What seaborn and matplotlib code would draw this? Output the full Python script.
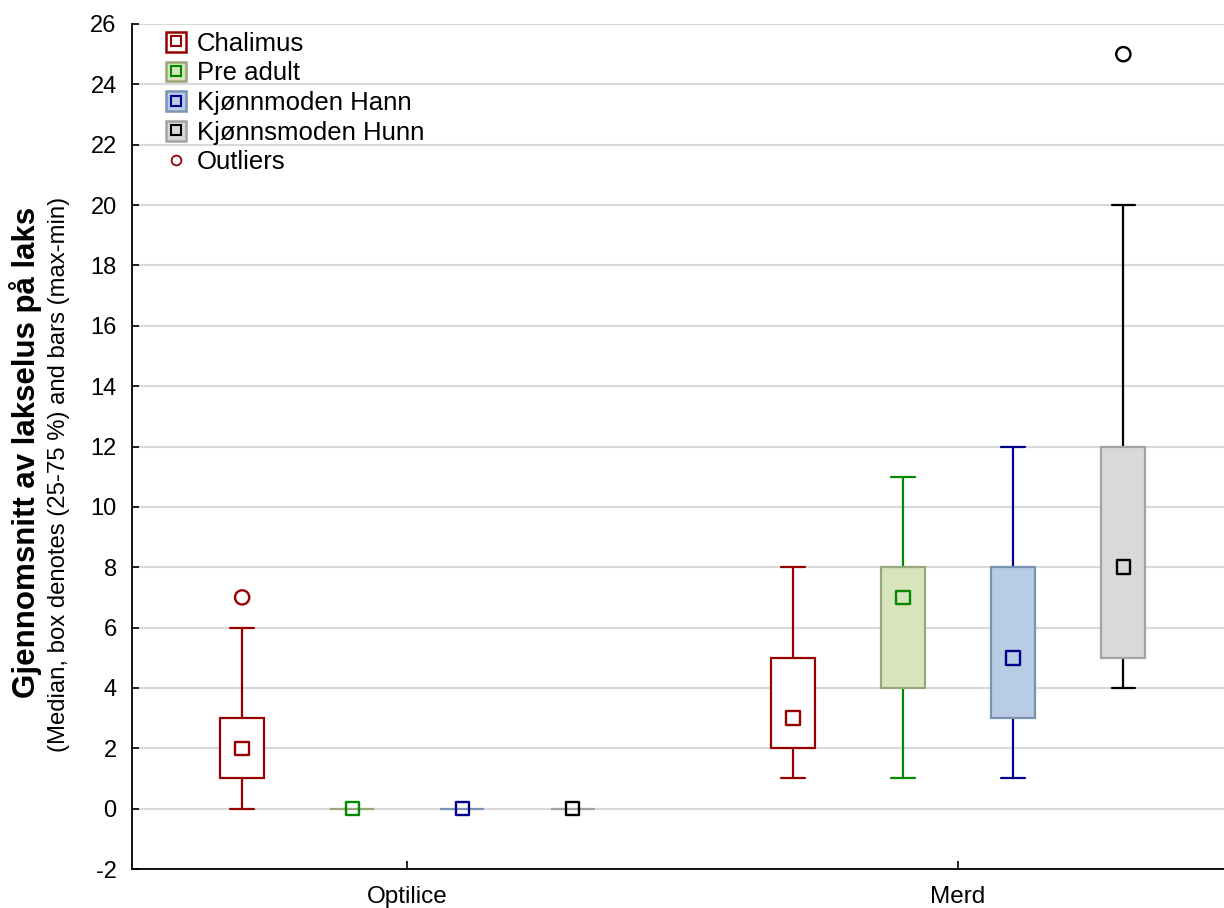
import numpy as np
import pandas as pd
import matplotlib
matplotlib.use("Agg")
import matplotlib.pyplot as plt
from matplotlib import font_manager
from matplotlib.patches import Patch
from matplotlib.lines import Line2D
from matplotlib.legend_handler import HandlerTuple
import seaborn as sns

# ---------------- data ----------------
groups = ["Optilice", "Merd"]
stages = ["Chalimus", "Pre adult", "Kjønnmoden Hann", "Kjønnsmoden Hunn"]
# per stage: values for [Optilice, Merd]
mins    = {"Chalimus": [0, 1], "Pre adult": [0, 1], "Kjønnmoden Hann": [0, 1], "Kjønnsmoden Hunn": [0, 4]}
q1s     = {"Chalimus": [1, 2], "Pre adult": [0, 4], "Kjønnmoden Hann": [0, 3], "Kjønnsmoden Hunn": [0, 5]}
medians = {"Chalimus": [2, 3], "Pre adult": [0, 7], "Kjønnmoden Hann": [0, 5], "Kjønnsmoden Hunn": [0, 8]}
q3s     = {"Chalimus": [3, 5], "Pre adult": [0, 8], "Kjønnmoden Hann": [0, 8], "Kjønnsmoden Hunn": [0, 12]}
maxs    = {"Chalimus": [6, 8], "Pre adult": [0, 11], "Kjønnmoden Hann": [0, 12], "Kjønnsmoden Hunn": [0, 20]}
outlier_stage = ["Chalimus", "Kjønnsmoden Hunn"]
outlier_group = ["Optilice", "Merd"]
outlier_value = [7, 25]
yticks = list(range(-2, 27, 2))

# ---------------- style ----------------
sns.set_style("white")
names = {f.name for f in font_manager.fontManager.ttflist}
base_font = "Liberation Sans" if "Liberation Sans" in names else "DejaVu Sans"
narrow_font = "Liberation Sans Narrow" if "Liberation Sans Narrow" in names else base_font
plt.rcParams["font.family"] = [base_font, "DejaVu Sans"]
plt.rcParams["text.color"] = "black"
plt.rcParams["xtick.color"] = "black"
plt.rcParams["ytick.color"] = "black"

face = {"Chalimus": "#ffffff", "Pre adult": "#d8e4bc", "Kjønnmoden Hann": "#b8cce4", "Kjønnsmoden Hunn": "#d9d9d9"}
edge = {"Chalimus": "#960000", "Pre adult": "#98a67c", "Kjønnmoden Hann": "#7b93b3", "Kjønnsmoden Hunn": "#a3a3a3"}
wcol = {"Chalimus": "#960000", "Pre adult": "#008a00", "Kjønnmoden Hann": "#00008c", "Kjønnsmoden Hunn": "#000000"}
offsets = {s: o for s, o in zip(stages, [-0.3, -0.1, 0.1, 0.3])}
box_w = 0.08
cap_w = 0.043

fig = plt.figure(figsize=(12.24, 9.08), dpi=100)
ax = fig.add_axes([132 / 1224, 39 / 908, (1233.5 - 132) / 1224, (869 - 24) / 908])

for s in stages:
    for gi, g in enumerate(groups):
        st = dict(med=medians[s][gi], q1=q1s[s][gi], q3=q3s[s][gi],
                  whislo=mins[s][gi], whishi=maxs[s][gi], fliers=[])
        flat = st["whislo"] == st["q1"] and st["whishi"] == st["q3"]
        ax.bxp([st], positions=[gi + offsets[s]], widths=box_w,
               capwidths=0.0 if flat else cap_w,
               patch_artist=True, showfliers=False, manage_ticks=False,
               showcaps=not flat,
               boxprops=dict(facecolor=face[s], edgecolor=edge[s], linewidth=1.6, zorder=3),
               whiskerprops=dict(color=wcol[s], linewidth=1.6, zorder=2),
               capprops=dict(color=wcol[s], linewidth=1.6, zorder=2),
               medianprops=dict(linestyle="none"))

# median markers
med_df = pd.DataFrame({
    "x": [gi + offsets[s] for s in stages for gi in range(len(groups))],
    "y": [medians[s][gi] for s in stages for gi in range(len(groups))],
    "stage": [s for s in stages for gi in range(len(groups))],
})
sns.scatterplot(data=med_df, x="x", y="y", hue="stage", palette=wcol, marker="s",
                s=95, linewidth=1.7, legend=False, ax=ax, zorder=5)
pc = ax.collections[-1]
pc.set_edgecolors(pc.get_facecolors())
pc.set_facecolor("none")

# outliers
out_df = pd.DataFrame({
    "x": [groups.index(g) + offsets[s] for s, g in zip(outlier_stage, outlier_group)],
    "y": outlier_value,
    "stage": outlier_stage,
})
sns.scatterplot(data=out_df, x="x", y="y", hue="stage", palette=wcol, marker="o",
                s=105, linewidth=1.7, legend=False, ax=ax, zorder=5)
pc = ax.collections[-1]
pc.set_edgecolors(pc.get_facecolors())
pc.set_facecolor("none")

ax.set_xlim(-0.5, 1.5)
ax.set_ylim(-2, 26)
ax.set_yticks(yticks)
ax.set_yticklabels([str(t) for t in yticks])
ax.set_xticks(range(len(groups)))
ax.set_xticklabels(groups)
ax.yaxis.grid(True, color="#d9d9d9", linewidth=1.5, zorder=0)
ax.xaxis.grid(False)
ax.set_axisbelow(True)
for side in ["top", "right"]:
    ax.spines[side].set_visible(False)
for side in ["left", "bottom"]:
    ax.spines[side].set_color("black")
    ax.spines[side].set_linewidth(1.3)
ax.tick_params(axis="y", direction="in", length=5, width=1.2, pad=11, labelsize=17, left=True)
ax.tick_params(axis="x", direction="in", length=6, width=1.2, pad=12, labelsize=17.5, bottom=True)
ax.set_xlabel("")
ax.set_ylabel("")

fig.text(26 / 1224, 1 - 452 / 908, "Gjennomsnitt av lakselus på laks", rotation=90,
         ha="center", va="center", fontsize=22.5, fontweight="bold", family=narrow_font)
fig.text(59 / 1224, 1 - 474 / 908, "(Median, box denotes (25-75 %) and bars (max-min)", rotation=90,
         ha="center", va="center", fontsize=17.2, family=narrow_font)

# legend
handles = []
for s in stages:
    handles.append((Patch(facecolor=face[s], edgecolor=edge[s] if s != "Chalimus" else wcol[s], linewidth=1.8),
                    Line2D([], [], marker="s", markersize=6.5, markerfacecolor="none",
                           markeredgecolor=wcol[s], markeredgewidth=1.5, linestyle="none")))
handles.append(Line2D([], [], marker="o", markersize=7, markerfacecolor="none",
                      markeredgecolor=wcol["Chalimus"], markeredgewidth=1.3, linestyle="none"))
leg = ax.legend(handles, stages + ["Outliers"], handler_map={tuple: HandlerTuple(ndivide=1, pad=0)},
                loc="upper left", bbox_to_anchor=(0.026, 0.997), frameon=False, fontsize=18.5,
                handlelength=0.8, handleheight=0.8, handletextpad=0.4, labelspacing=0.22,
                borderaxespad=0.2, borderpad=0.0)

fig.savefig("out.png", dpi=100)
